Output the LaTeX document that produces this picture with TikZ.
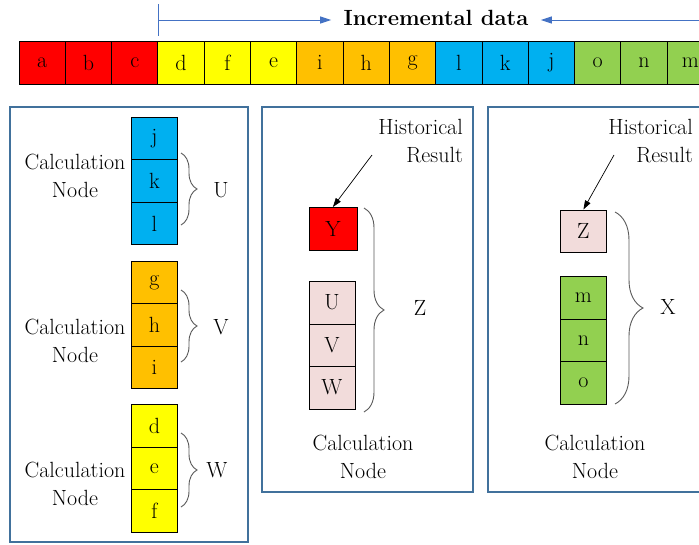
\documentclass[tikz,border=0pt]{standalone}
\usepackage{fontspec}
\usetikzlibrary{positioning, arrows.meta, decorations.pathreplacing}

\definecolor{cred}{HTML}{FF0000}
\definecolor{cyel}{HTML}{FFFF00}
\definecolor{corg}{HTML}{FFC000}
\definecolor{cblu}{HTML}{00B0F0}
\definecolor{cgrn}{HTML}{92D050}
\definecolor{cpink}{HTML}{F2DCDB}
\definecolor{framecol}{HTML}{41719C}
\definecolor{arrcol}{HTML}{4472C4}

\begin{document}
\begin{tikzpicture}[x=1pt,y=-1pt,font=\rmfamily\fontsize{22}{28}\selectfont,
    cell/.style={draw,line width=0.8pt,minimum width=46pt,minimum height=42.5pt,inner sep=0pt,anchor=north west},
    panel/.style={draw=framecol,line width=1.6pt},
    brc/.style={draw=black!65,line width=0.9pt,decorate,decoration={brace,amplitude=#1}},
    blueline/.style={draw=arrcol,line width=1pt},
    bluearr/.style={blueline,-{Triangle[length=11pt,width=7pt]},shorten >=9pt},
    harr/.style={draw=black,line width=0.7pt,-{Triangle[length=9pt,width=6pt]}},
    lbl/.style={align=center,inner sep=1pt}]
    \useasboundingbox (0,0) rectangle (699,544);
    \clip (0,0) rectangle (699,544);

    % incremental data bar
    \foreach \ch/\col [count=\i] in {a/cred,b/cred,c/cred,d/cyel,f/cyel,e/cyel,i/corg,h/corg,g/corg,l/cblu,k/cblu,j/cblu,o/cgrn,n/cgrn,m/cgrn}
        \node[cell,fill=\col,minimum width=46.3pt,line width=1pt] (t\i) at ({18.5+46.3*(\i-1)},41) {\ch};

    \coordinate (ticktop) at (158,4);
    \coordinate (tickbot) at (158,36);
    \coordinate (lstart) at (158,20);
    \coordinate (rstart) at (705,20);
    \draw[blueline] (ticktop) -- (tickbot);
    \node[font=\rmfamily\bfseries\fontsize{22}{28}\selectfont] (title) at (436,18) {Incremental data};
    \draw[bluearr] (lstart) -- (lstart -| title.west);
    \draw[bluearr] (rstart) -- (rstart -| title.east);

    % left panel
    \draw[panel] (10,107) rectangle (248,542);
    \foreach \ch [count=\i] in {j,k,l}
        \node[cell,fill=cblu] (u\i) at (131,{117+42.4*(\i-1)}) {\ch};
    \foreach \ch [count=\i] in {g,h,i}
        \node[cell,fill=corg] (v\i) at (131,{261+42.4*(\i-1)}) {\ch};
    \foreach \ch [count=\i] in {d,e,f}
        \node[cell,fill=cyel] (w\i) at (131,{404+42.6*(\i-1)}) {\ch};

    \node[lbl] (cnu) at (75,176) {Calculation\\Node};
    \node[lbl] (cnv) at (75,341) {Calculation\\Node};
    \node[lbl] (cnw) at (75,484) {Calculation\\Node};

    \coordinate (ub1) at (181,153);
    \coordinate (ub2) at (181,225);
    \coordinate (vb1) at (181,290);
    \coordinate (vb2) at (181,362);
    \coordinate (wb1) at (181,433);
    \coordinate (wb2) at (181,507);
    \draw[brc=16pt] (ub1) -- (ub2);
    \draw[brc=16pt] (vb1) -- (vb2);
    \draw[brc=16pt] (wb1) -- (wb2);
    \node (ulab) at (221,190) {U};
    \node (vlab) at (221,327) {V};
    \node (wlab) at (217,470) {W};

    % middle panel
    \draw[panel] (262,107) rectangle (473,492);
    \node[lbl,align=right,anchor=east] (hist1) at (464,141) {Historical\\Result};
    \node[cell,fill=cred,minimum width=48pt] (ybox) at (308.5,207) {Y};
    \foreach \ch [count=\i] in {U,V,W}
        \node[cell,fill=cpink] (m\i) at (308.5,{281+42.5*(\i-1)}) {\ch};
    \coordinate (ha1) at (372,155);
    \draw[harr] (ha1) -- (ybox.north);
    \coordinate (zb1) at (364,208);
    \coordinate (zb2) at (364,412);
    \draw[brc=20pt] (zb1) -- (zb2);
    \node (zlab) at (420,308) {Z};
    \node[lbl] (cnz) at (363,457) {Calculation\\Node};

    % right panel
    \draw[panel] (488,107) rectangle (712,492);
    \node[lbl,align=right,anchor=east] (hist2) at (694,141) {Historical\\Result};
    \node[cell,fill=cpink] (zbox) at (560,209.5) {Z};
    \foreach \ch [count=\i] in {m,n,o}
        \node[cell,fill=cgrn] (r\i) at (560,{276+42.7*(\i-1)}) {\ch};
    \coordinate (ha2) at (614,155);
    \draw[harr] (ha2) -- (zbox.north);
    \coordinate (xb1) at (615,212);
    \coordinate (xb2) at (615,404);
    \draw[brc=28pt] (xb1) -- (xb2);
    \node (xlab) at (668,307) {X};
    \node[lbl] (cnx) at (595,457) {Calculation\\Node};
\end{tikzpicture}
\end{document}
